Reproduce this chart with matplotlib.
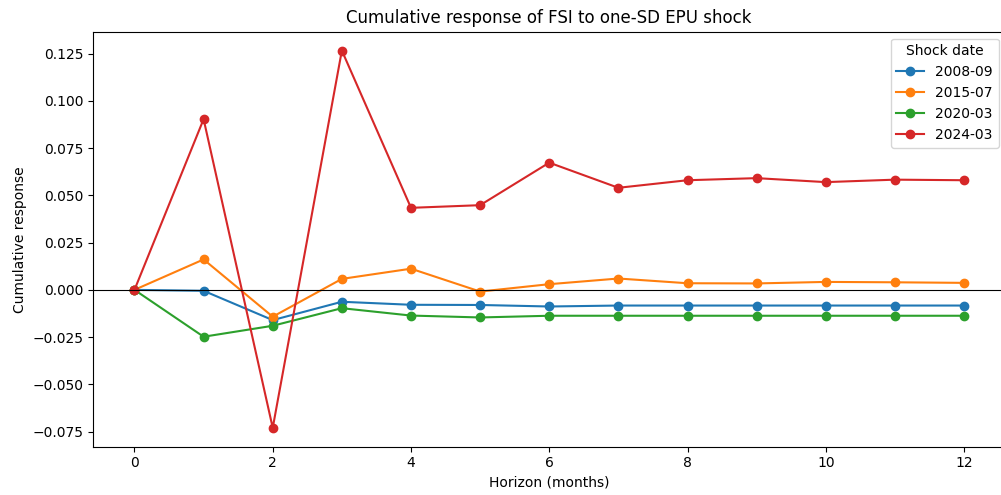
import numpy as np
import matplotlib
matplotlib.use("Agg")
import matplotlib.pyplot as plt

horizon = np.arange(13)
shock_dates = ["2008-09", "2015-07", "2020-03", "2024-03"]

resp_2008 = [0.0, -0.0005, -0.0160, -0.0063, -0.0079, -0.0080, -0.0088,
             -0.0083, -0.0083, -0.0083, -0.0083, -0.0083, -0.0083]
resp_2015 = [0.0, 0.0161, -0.0142, 0.0058, 0.0112, -0.0009, 0.0030,
             0.0060, 0.0035, 0.0034, 0.0042, 0.0040, 0.0037]
resp_2020 = [0.0, -0.0248, -0.0190, -0.0097, -0.0136, -0.0146, -0.0137,
             -0.0137, -0.0137, -0.0137, -0.0137, -0.0137, -0.0137]
resp_2024 = [0.0, 0.0903, -0.0730, 0.1266, 0.0434, 0.0448, 0.0673,
             0.0540, 0.0580, 0.0591, 0.0570, 0.0583, 0.0580]

responses = [resp_2008, resp_2015, resp_2020, resp_2024]

fig = plt.figure(figsize=(10.01, 4.95), dpi=100)
# the original was cropped, so the right edge of the axes sits just past the figure
ax = fig.add_axes([93 / 1001, 1 - 446.7 / 495, (1005.5 - 93) / 1001, (446.7 - 31.7) / 495])

for label, vals in zip(shock_dates, responses):
    ax.plot(horizon, vals, marker="o", label=label)

ax.axhline(0, color="black", linewidth=0.8)
ax.set_xlabel("Horizon (months)")
ax.set_ylabel("Cumulative response")
ax.set_title("Cumulative response of FSI to one-SD EPU shock")
ax.legend(title="Shock date", loc="upper right")
ax.spines["right"].set_visible(False)

fig.savefig("out.png", dpi=100)
